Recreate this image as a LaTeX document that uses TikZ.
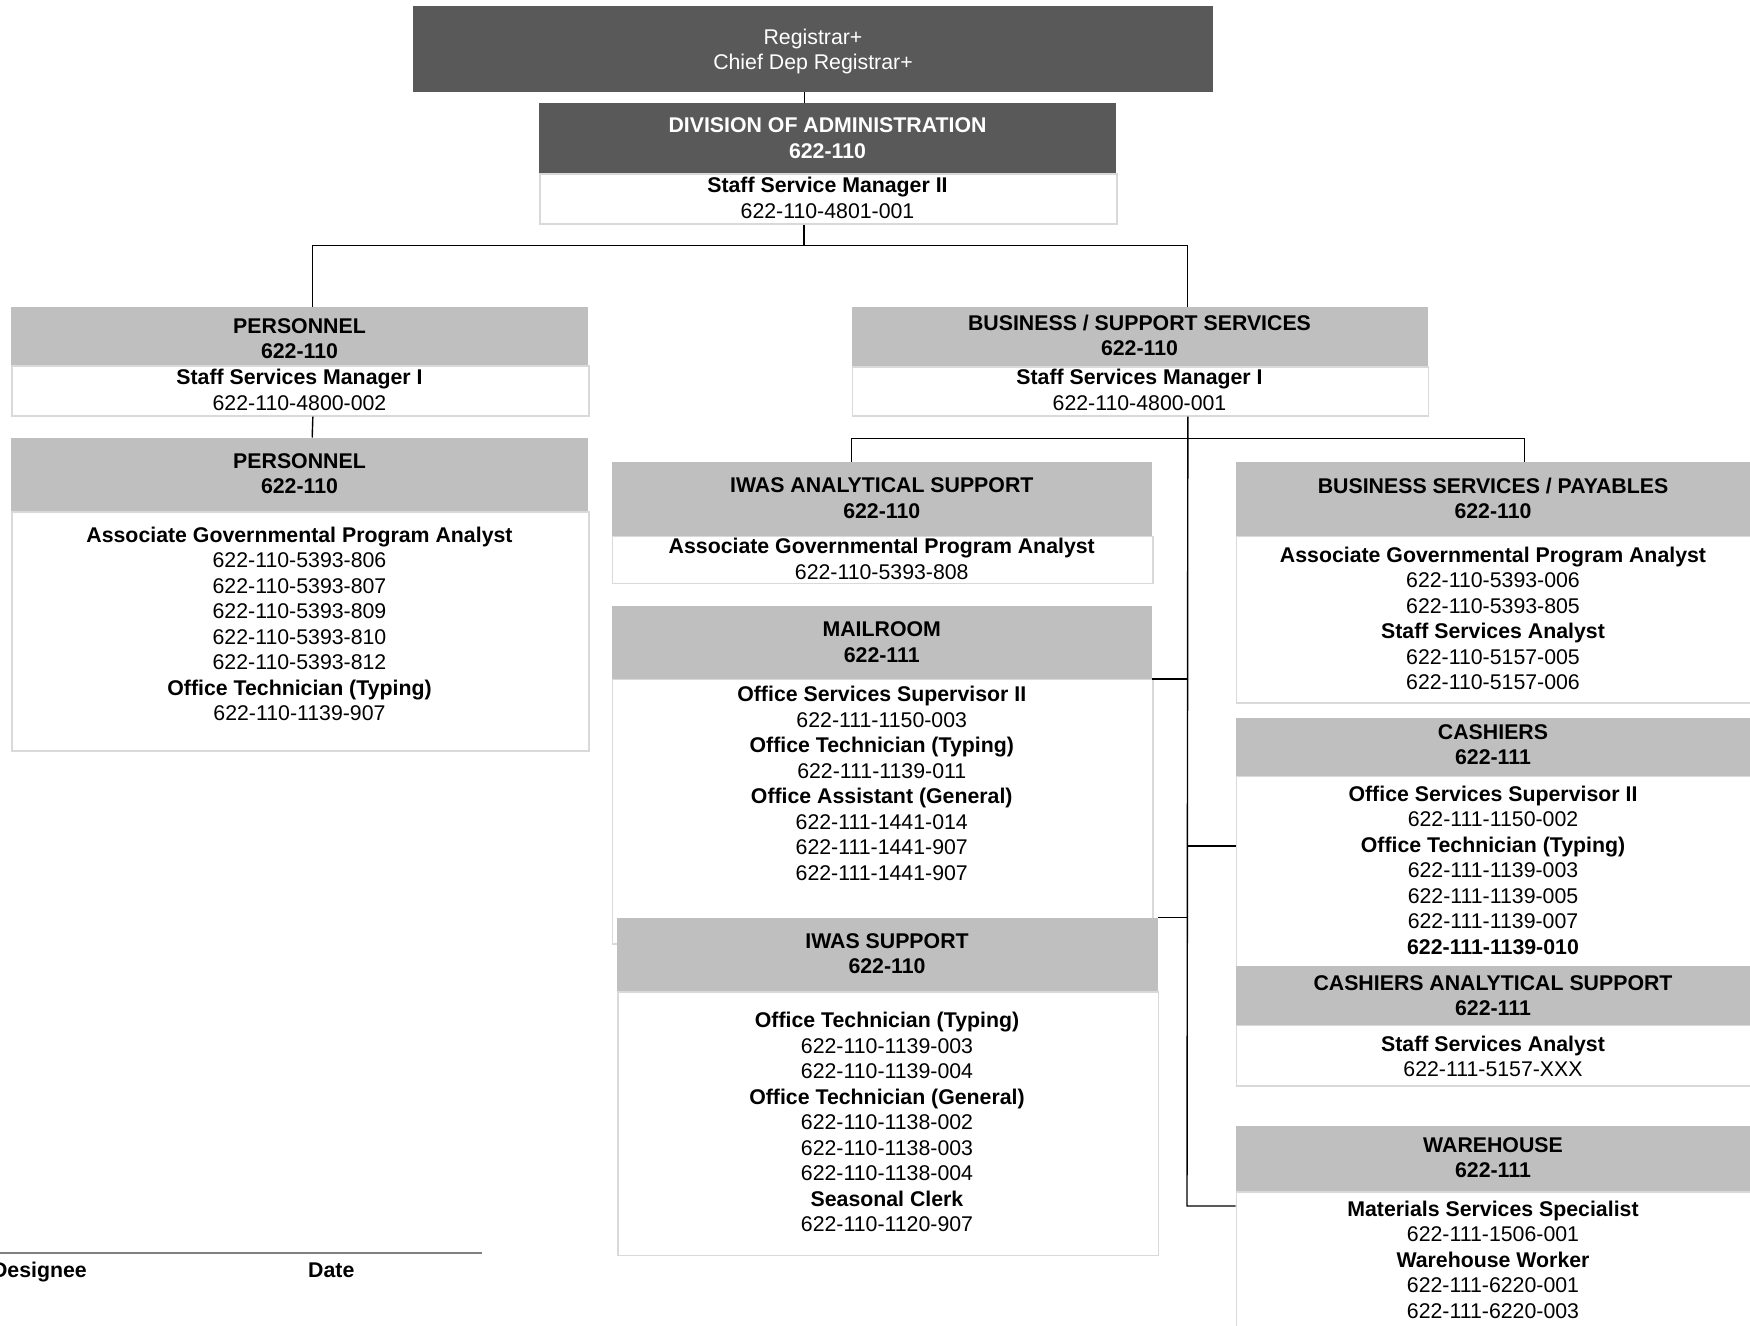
\documentclass[tikz,border=0pt]{standalone}
\usepackage{fontspec}
\setmainfont{Liberation Sans}
\usepackage{tikz}
\usetikzlibrary{positioning}

\definecolor{headdark}{HTML}{595959}
\definecolor{headlight}{HTML}{BFBFBF}
\definecolor{bodyline}{HTML}{D9D9D9}
\definecolor{signline}{HTML}{808080}

\tikzset{
	darkhead/.style={fill=headdark, inner sep=0pt, anchor=north west},
	lighthead/.style={fill=headlight, inner sep=0pt, anchor=north west},
	bodybox/.style={draw=bodyline, line width=1.7pt, fill=white, inner sep=0pt, anchor=north west},
	lines/.style={anchor=north, inner sep=0pt, align=center, font=\fontsize{21.3}{25.5}\selectfont},
	boldlines/.style={lines, font=\fontsize{21.3}{25.5}\selectfont\bfseries},
	conn/.style={draw=black, line width=1.4pt},
}

\begin{document}
\begin{tikzpicture}[x=1pt, y=-1pt]
	\useasboundingbox (0,0) rectangle (1750,1325);
	\clip (0,0) rectangle (1750,1325);

	% registrar on top
	\node[darkhead, minimum width=800pt, minimum height=86pt] (regbox) at (413,6) {};
	\node[lines, text=white] (regtxt) at (813,28.5) {Registrar+\\Chief Dep Registrar+};

	% division of administration
	\node[darkhead, minimum width=577pt, minimum height=70pt] (admhead) at (539,103) {};
	\node[bodybox, minimum width=577pt, minimum height=50pt] (admbody) at (539,173) {};
	\node[boldlines, text=white] (admheadtxt) at (827.5,117.5) {DIVISION OF ADMINISTRATION\\622-110};
	\node[lines] (admbodytxt) at (827.5,177.2) {\textbf{Staff Service Manager II}\\622-110-4801-001};

	% personnel, two levels
	\node[lighthead, minimum width=577pt, minimum height=58pt] (pershead) at (11,307) {};
	\node[bodybox, minimum width=577pt, minimum height=50pt] (persbody) at (11,365) {};
	\node[boldlines] (persheadtxt) at (299.5,318.2) {PERSONNEL\\622-110};
	\node[lines] (persbodytxt) at (299.5,369.2) {\textbf{Staff Services Manager I}\\622-110-4800-002};

	\node[lighthead, minimum width=577pt, minimum height=73.5pt] (perstaffhead) at (11,437.5) {};
	\node[bodybox, minimum width=577pt, minimum height=239pt] (perstaffbody) at (11,511) {};
	\node[boldlines] (perstaffheadtxt) at (299.5,453.2) {PERSONNEL\\622-110};
	\node[lines] (perstaffbodytxt) at (299.5,526.7) {\textbf{Associate Governmental Program Analyst}\\622-110-5393-806\\622-110-5393-807\\622-110-5393-809\\622-110-5393-810\\622-110-5393-812\\\textbf{Office Technician (Typing)}\\622-110-1139-907};

	% business / support services
	\node[lighthead, minimum width=576pt, minimum height=59pt] (bushead) at (851.5,307) {};
	\node[bodybox, minimum width=576pt, minimum height=49pt] (busbody) at (851.5,366) {};
	\node[boldlines] (busheadtxt) at (1139.5,314.7) {BUSINESS / SUPPORT SERVICES\\622-110};
	\node[lines] (busbodytxt) at (1139.5,369.2) {\textbf{Staff Services Manager I}\\622-110-4800-001};

	% left column under business
	\node[lighthead, minimum width=540.5pt, minimum height=73.5pt] (iwashead) at (611.5,462) {};
	\node[bodybox, minimum width=540.5pt, minimum height=47pt] (iwasbody) at (611.5,535.5) {};
	\node[boldlines] (iwasheadtxt) at (881.75,477.7) {IWAS ANALYTICAL SUPPORT\\622-110};
	\node[lines] (iwasbodytxt) at (881.75,538.2) {\textbf{Associate Governmental Program Analyst}\\622-110-5393-808};

	\node[lighthead, minimum width=540.5pt, minimum height=72.5pt] (mailhead) at (611.5,606) {};
	\node[bodybox, minimum width=540.5pt, minimum height=264.5pt] (mailbody) at (611.5,678.5) {};
	\node[boldlines] (mailheadtxt) at (881.75,621.7) {MAILROOM\\622-111};
	\node[lines] (mailbodytxt) at (881.75,686.2) {\textbf{Office Services Supervisor II}\\622-111-1150-003\\\textbf{Office Technician (Typing)}\\622-111-1139-011\\\textbf{Office Assistant (General)}\\622-111-1441-014\\622-111-1441-907\\622-111-1441-907};

	\node[lighthead, minimum width=540.5pt, minimum height=73.5pt] (iwsuphead) at (617,917.5) {};
	\node[bodybox, minimum width=540.5pt, minimum height=263.5pt] (iwsupbody) at (617,991) {};
	\node[boldlines] (iwsupheadtxt) at (887,933.2) {IWAS SUPPORT\\622-110};
	\node[lines] (iwsupbodytxt) at (887,1012.2) {\textbf{Office Technician (Typing)}\\622-110-1139-003\\622-110-1139-004\\\textbf{Office Technician (General)}\\622-110-1138-002\\622-110-1138-003\\622-110-1138-004\\\textbf{Seasonal Clerk}\\622-110-1120-907};

	% right column under business
	\node[lighthead, minimum width=517pt, minimum height=73.5pt] (payhead) at (1235.5,462) {};
	\node[bodybox, minimum width=517pt, minimum height=166.5pt] (paybody) at (1235.5,535.5) {};
	\node[boldlines] (payheadtxt) at (1493,477.7) {BUSINESS SERVICES / PAYABLES\\622-110};
	\node[lines] (paybodytxt) at (1493,546.7) {\textbf{Associate Governmental Program Analyst}\\622-110-5393-006\\622-110-5393-805\\\textbf{Staff Services Analyst}\\622-110-5157-005\\622-110-5157-006};

	\node[lighthead, minimum width=517pt, minimum height=58pt] (cashhead) at (1235.5,717.5) {};
	\node[bodybox, minimum width=517pt, minimum height=190pt] (cashbody) at (1235.5,775.5) {};
	\node[boldlines] (cashheadtxt) at (1493,724.2) {CASHIERS\\622-111};
	\node[lines] (cashbodytxt) at (1493,785.7) {\textbf{Office Services Supervisor II}\\622-111-1150-002\\\textbf{Office Technician (Typing)}\\622-111-1139-003\\622-111-1139-005\\622-111-1139-007\\\textbf{622-111-1139-010}};

	\node[lighthead, minimum width=517pt, minimum height=59pt] (cashanhead) at (1235.5,965.5) {};
	\node[bodybox, minimum width=517pt, minimum height=60.5pt] (cashanbody) at (1235.5,1024.5) {};
	\node[boldlines] (cashanheadtxt) at (1493,975.2) {CASHIERS ANALYTICAL SUPPORT\\622-111};
	\node[lines] (cashanbodytxt) at (1493,1035.7) {\textbf{Staff Services Analyst}\\622-111-5157-XXX};

	\node[lighthead, minimum width=517pt, minimum height=65pt] (whhead) at (1235.5,1126) {};
	\node[bodybox, minimum width=517pt, minimum height=150pt] (whbody) at (1235.5,1191) {};
	\node[boldlines] (whheadtxt) at (1493,1137.2) {WAREHOUSE\\622-111};
	\node[lines] (whbodytxt) at (1493,1200.7) {\textbf{Materials Services Specialist}\\622-111-1506-001\\\textbf{Warehouse Worker}\\622-111-6220-001\\622-111-6220-003};

	% connectors
	\draw[conn] ([xshift=-9pt]regbox.south) -- +(0,11);
	\coordinate (admsplit) at (804,245.5);
	\draw[conn] (admbody.south -| admsplit) -- (admsplit);
	\draw[conn] ([xshift=12.5pt]pershead.north) |- (admsplit) -| ([xshift=47.5pt]bushead.north);
	\draw[conn] ([xshift=12.5pt]persbody.south) -- ([xshift=12.5pt]perstaffhead.north);

	\coordinate (bussplit) at (1187,438.5);
	\coordinate (cashjoin) at (1187,846);
	\coordinate (whjoin) at (1187,1206);
	\draw[conn] ([xshift=47.5pt]busbody.south) -- (whjoin) -- (whjoin -| whbody.west);
	\draw[conn] ([xshift=-30.25pt]iwashead.north) |- (bussplit) -| ([xshift=30pt]payhead.north);
	\draw[conn] (mailhead.south east) -- (mailhead.south east -| bussplit);
	\draw[conn] (iwsuphead.north east) -- (iwsuphead.north east -| bussplit);
	\draw[conn] (cashjoin) -- (cashjoin -| cashbody.west);

	% signature
	\draw[signline, line width=1.3pt] (0,1253) -- (482,1253);
	\node[anchor=base east, inner sep=0pt, font=\fontsize{21.3}{25.5}\selectfont\bfseries] (signame) at (87,1277.6) {Designee};
	\node[anchor=base west, inner sep=0pt, font=\fontsize{21.3}{25.5}\selectfont\bfseries] (sigdate) at (308,1277.6) {Date};
\end{tikzpicture}
\end{document}
